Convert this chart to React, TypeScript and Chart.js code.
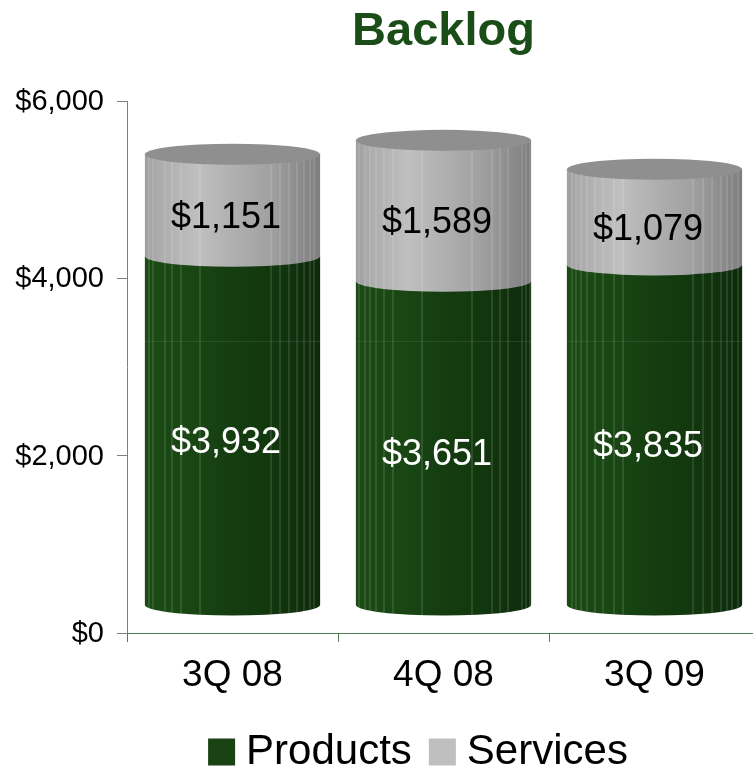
import React, { useEffect, useRef } from "react";
import { Chart, registerables } from "chart.js";

Chart.register(...registerables);

const categories = ["3Q 08", "4Q 08", "3Q 09"];
const products = [3932, 3651, 3835];
const services = [1151, 1589, 1079];
const yTicks = [0, 2000, 4000, 6000];

const GREEN = "#1a4314";
const GRAY = "#bfbfbf";
const TITLE_GREEN = "#1a4d17";
const FONT = "'Liberation Sans', Arial, sans-serif";

// 3-D look: the bars sit on a raised floor, so their hidden scale starts below zero.
const FLOOR_VALUE = -316;
const ELLIPSE_RY = 10.5;
const facetOffsets = [
  [-84, -80, -68, -61, -52, -33, 38, 47, 56, 64, 71, 77, 81],
  [-85, -79, -74, -68, -60, -51, -22, 28, 48, 56, 64, 78, 82, 86],
  [-83, -79, -74, -68, -60, -52, -41, -32, 38, 48, 57, 66, 72, 77, 83],
];
const greenStops: [number, string][] = [
  [0, "#1b4a15"], [0.28, "#194613"], [0.5, "#153d10"], [0.72, "#12370e"], [0.9, "#0f2f0c"], [1, "#0d2a0a"],
];
const grayStops: [number, string][] = [
  [0, "#a0a0a0"], [0.1, "#aeaeae"], [0.3, "#bfbfbf"], [0.5, "#b0b0b0"], [0.72, "#a0a0a0"], [0.9, "#8a8a8a"], [1, "#7e7e7e"],
];
const CAP = "#8f8f8f";
const RULE_VALUE = 3293;
const LEGEND_SHIFT = 20.5;

function sideGradient(ctx: CanvasRenderingContext2D, l: number, r: number, stops: [number, string][]) {
  const g = ctx.createLinearGradient(l, 0, r, 0);
  stops.forEach(([p, c]) => g.addColorStop(p, c));
  return g;
}

function bodyPath(ctx: CanvasRenderingContext2D, cx: number, rx: number, top: number, bottom: number) {
  ctx.beginPath();
  ctx.moveTo(cx - rx, top);
  ctx.lineTo(cx - rx, bottom);
  ctx.ellipse(cx, bottom, rx, ELLIPSE_RY, 0, Math.PI, 0, true);
  ctx.lineTo(cx + rx, top);
  ctx.closePath();
}

const cylinderPlugin = {
  id: "cylinder",
  afterLayout(chart: any) {
    chart.legend.left -= LEGEND_SHIFT;
    chart.legend.right -= LEGEND_SHIFT;
  },
  afterDatasetsDraw(chart: any) {
    const ctx: CanvasRenderingContext2D = chart.ctx;
    const prod = chart.getDatasetMeta(0).data;
    const serv = chart.getDatasetMeta(1).data;
    const yScale = chart.scales.y;
    categories.forEach((_, i) => {
      const p = prod[i].getProps(["x", "y", "base", "width"], true);
      const s = serv[i].getProps(["x", "y", "base", "width"], true);
      const cx = p.x;
      const rx = p.width / 2;
      const l = cx - rx;
      const r = cx + rx;

      const paintSegment = (top: number, bottom: number, stops: [number, string][]) => {
        ctx.save();
        bodyPath(ctx, cx, rx, top, bottom);
        ctx.fillStyle = sideGradient(ctx, l, r, stops);
        ctx.fill();
        ctx.clip();
        ctx.strokeStyle = "rgba(255,255,255,0.22)";
        ctx.lineWidth = 1;
        facetOffsets[i].forEach((o) => {
          ctx.beginPath();
          ctx.moveTo(cx + o + 0.5, top);
          ctx.lineTo(cx + o + 0.5, bottom + ELLIPSE_RY);
          ctx.stroke();
        });
        ctx.restore();
      };

      paintSegment(p.y, p.base, greenStops);
      paintSegment(s.y, s.base, grayStops);

      // faint rule running through the body
      const ruleY = Math.round(yScale.getPixelForValue(RULE_VALUE)) + 0.5;
      ctx.save();
      ctx.strokeStyle = "rgba(90,120,90,0.3)";
      ctx.lineWidth = 1;
      ctx.beginPath();
      ctx.moveTo(l, ruleY);
      ctx.lineTo(r, ruleY);
      ctx.stroke();
      ctx.restore();

      // top cap
      ctx.beginPath();
      ctx.ellipse(cx, s.y, rx, ELLIPSE_RY, 0, 0, Math.PI * 2);
      ctx.fillStyle = CAP;
      ctx.fill();

      // value labels
      ctx.font = `36px ${FONT}`;
      ctx.textAlign = "center";
      ctx.textBaseline = "middle";
      ctx.fillStyle = "#ffffff";
      ctx.fillText("$" + products[i].toLocaleString("en-US"), cx - 6.5, (p.y + p.base) / 2 + 12);
      ctx.fillStyle = "#000000";
      ctx.fillText("$" + services[i].toLocaleString("en-US"), cx - 6.5, (s.y + s.base) / 2 + 12.5);
    });
  },
};

export default function App() {
  const ref = useRef<HTMLCanvasElement | null>(null);
  useEffect(() => {
    document.body.style.margin = "0";
    const chart = new Chart(ref.current as HTMLCanvasElement, {
      type: "bar",
      data: {
        labels: categories,
        datasets: [
          { label: "Products", data: products, backgroundColor: GREEN, yAxisID: "yBars", barPercentage: 0.83, categoryPercentage: 1 },
          { label: "Services", data: services, backgroundColor: GRAY, yAxisID: "yBars", barPercentage: 0.83, categoryPercentage: 1 },
        ],
      },
      options: {
        responsive: false,
        animation: false,
        events: [],
        layout: { padding: { left: 0, right: 10, top: 0, bottom: 0 } },
        plugins: {
          tooltip: { enabled: false },
          title: {
            display: true,
            text: "Backlog",
            color: TITLE_GREEN,
            fullSize: false,
            font: { family: FONT, size: 47, weight: "bold" },
            padding: { top: 4, bottom: 40.6 },
          },
          legend: {
            position: "bottom",
            fullSize: false,
            labels: {
              font: { family: FONT, size: 42 },
              color: "#000000",
              padding: 27,
              boxWidth: 7,
              boxHeight: 7,
              generateLabels: (c: any) =>
                c.data.datasets.map((d: any, i: number) => ({
                  text: d.label,
                  fillStyle: d.backgroundColor,
                  strokeStyle: d.backgroundColor,
                  lineWidth: 20,
                  datasetIndex: i,
                })),
            },
          },
        },
        scales: {
          x: {
            stacked: true,
            afterFit: (s: any) => { s.height = 71; },
            grid: { drawOnChartArea: false, tickColor: "#4f7f4f", tickLength: 9, offset: true },
            border: { color: "#4f7f4f", width: 1 },
            ticks: { color: "#000000", font: { family: FONT, size: 37 }, padding: 12, maxRotation: 0 },
          },
          y: {
            min: 0,
            max: 6000,
            position: "left",
            afterFit: (s: any) => { s.width = 127; },
            afterBuildTicks: (s: any) => { s.ticks = yTicks.map((value) => ({ value })); },
            grid: { drawOnChartArea: false, tickColor: "#7f7f7f", tickLength: 10 },
            border: { color: "#7f7f7f", width: 1 },
            ticks: {
              color: "#000000",
              font: { family: FONT, size: 29 },
              padding: 13,
              labelOffset: 1,
              callback: (v: any) => "$" + Number(v).toLocaleString("en-US"),
            },
          },
          yBars: {
            display: false,
            stacked: true,
            min: FLOOR_VALUE,
            max: 6000 + FLOOR_VALUE,
            grid: { display: false },
          },
        },
      } as any,
      plugins: [cylinderPlugin],
    });
    return () => chart.destroy();
  }, []);
  return (
    <div style={{ width: 753, height: 770, overflow: "hidden" }}>
      <canvas ref={ref} width={770} height={783} style={{ display: "block" }} />
    </div>
  );
}
